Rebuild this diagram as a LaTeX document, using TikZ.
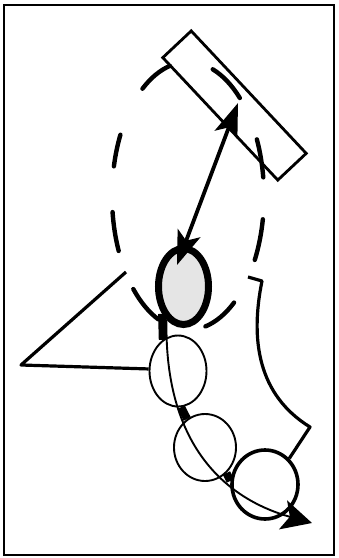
\documentclass[tikz,border=0pt]{standalone}
\usetikzlibrary{arrows.meta,shapes.geometric}
\begin{document}
\begin{tikzpicture}[x=1pt,y=-1pt,
  frame/.style={line width=2pt},
  dashring/.style={line width=4.4pt,line cap=round},
  hub/.style={ellipse,draw,line width=7pt,fill=gray!20,inner sep=0pt,minimum width=50pt,minimum height=76pt},
  ring/.style={ellipse,draw,line width=1.9pt,inner sep=0pt},
  bigring/.style={ellipse,draw,line width=3.6pt,inner sep=0pt},
  plate/.style={rectangle,draw,line width=2.8pt,inner sep=0pt,minimum width=168pt,minimum height=39pt,rotate=-46.8},
  link/.style={line width=8pt},
  thickline/.style={line width=3.2pt,line join=round},
  twohead/.style={line width=3.8pt,{Stealth[length=34pt,width=24pt,inset=8pt]}-{Stealth[length=34pt,width=24pt,inset=8pt]}},
  pathline/.style={line width=1.9pt,-{Stealth[length=30pt,width=30pt,inset=7pt]}}]
\useasboundingbox (0,0) rectangle (339,558);
\draw[frame] (4,5) rectangle (334,555);
% tilted plate
\node[plate] (plate) at (234.5,105.5) {};
% dashed orbit
\coordinate (E) at (188,196);
\foreach \a/\b in {-71/-47,-25/-8,10/28.5,52.7/76.7,113/136,155.8/173.1,192.8/207.2,233.2/256.2}{
  \draw[dashring] ([shift={(\a:76 and 134)}]E) arc[start angle=\a,end angle=\b,x radius=76,y radius=134];
}
% hub and rings
\node[hub] (hub) at (183.5,286.5) {};
\node[ring,minimum width=57pt,minimum height=71pt] (c1) at (178,371) {};
\node[ring,minimum width=62pt,minimum height=67pt] (c2) at (205,447.5) {};
\node[bigring,minimum width=66pt,minimum height=69pt] (c3) at (265,484.5) {};
% links
\draw[link] (hub.-128) -- (c1.116);
\draw[link] (c1.-85) -- (c2.122);
\draw[link] (c2.-50) -- (c3.174);
% double arrow
\coordinate (tipA) at (177,265);
\coordinate (tipB) at (238,103);
\draw[twohead] (tipA) -- (tipB);
% triangle
\coordinate (t1) at (126,272);
\coordinate (t2) at (21,365);
\draw[thickline] (t1) -- (t2) -- (c1.176);
% right curve
\coordinate (r0) at (248,277);
\coordinate (r1) at (262,281);
\coordinate (r2) at (310,427);
\draw[thickline] (r0) -- (r1) .. controls (250,340) and (258,395) .. (r2) -- (c3.47);
% trajectory
\coordinate (tipC) at (312,523);
\draw[pathline] (hub.-117) .. controls (164,450) and (230,500) .. (tipC);
\end{tikzpicture}
\end{document}
